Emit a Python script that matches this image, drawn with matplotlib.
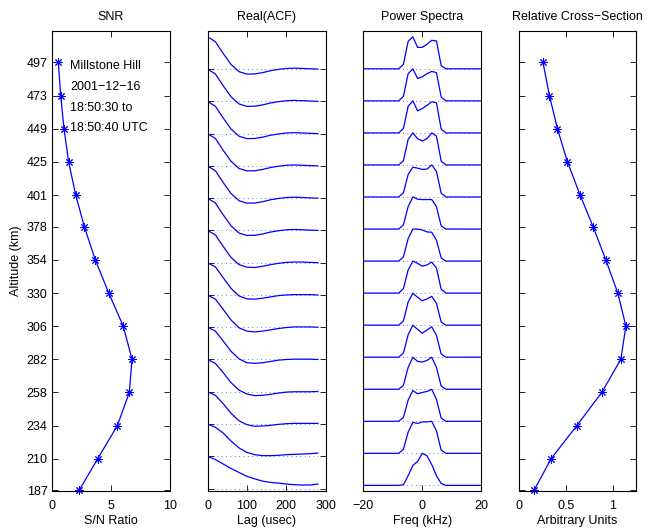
import matplotlib
matplotlib.use("Agg")
import matplotlib.pyplot as plt

plt.rcParams['font.family'] = ['Liberation Sans', 'DejaVu Sans']
FS = 9
plt.rcParams['font.size'] = FS

# ---------------- data ----------------
altitudes = [187, 210, 234, 258, 282, 306, 330, 354, 378, 401, 425, 449, 473, 497]
alt_labels = ['187', '210', '234', '258', '282', '306', '330', '354', '378', '401',
              '425', '449', '473', '497']
snr = [2.31, 3.89, 5.55, 6.56, 6.79, 6.05, 4.82, 3.69, 2.76, 2.03, 1.43, 1.04, 0.76, 0.56]
rcs = [0.16, 0.342, 0.616, 0.882, 1.085, 1.139, 1.053, 0.925, 0.79, 0.651, 0.516, 0.41,
       0.324, 0.256]

lags = [0, 20, 40, 60, 80, 100, 120, 140, 160, 180, 200, 220, 240, 260, 280]
acf_187 = [1.0, 0.90, 0.76, 0.62, 0.50, 0.38, 0.30, 0.23, 0.19, 0.17, 0.14, 0.12, 0.11, 0.11, 0.14]
acf_210 = [1.0, 0.90, 0.72, 0.47, 0.26, 0.12, 0.05, 0.02, 0.02, 0.03, 0.05, 0.06, 0.07, 0.08, 0.10]
acf_234 = [1.0, 0.89, 0.63, 0.33, 0.10, -0.02, -0.07, -0.06, -0.04, -0.01, 0.01, 0.02, 0.02, 0.02, 0.02]
acf_258 = [1.0, 0.88, 0.59, 0.28, 0.05, -0.07, -0.12, -0.11, -0.08, -0.04, -0.01, 0.0, 0.0, 0.0, 0.01]
acf_282 = [1.0, 0.88, 0.57, 0.25, 0.02, -0.10, -0.12, -0.10, -0.06, -0.02, 0.0, 0.01, 0.01, 0.01, 0.0]
acf_306 = [1.0, 0.87, 0.55, 0.22, -0.02, -0.12, -0.145, -0.12, -0.08, -0.04, -0.01, 0.01, 0.01, 0.01, 0.0]
acf_330 = [1.0, 0.87, 0.53, 0.20, -0.03, -0.12, -0.13, -0.10, -0.06, -0.02, 0.0, 0.01, 0.01, 0.01, 0.0]
acf_354 = [1.0, 0.86, 0.50, 0.16, -0.06, -0.14, -0.15, -0.11, -0.06, -0.02, 0.01, 0.02, 0.02, 0.01, 0.0]
acf_378 = [1.0, 0.85, 0.48, 0.14, -0.08, -0.155, -0.15, -0.11, -0.05, -0.01, 0.02, 0.03, 0.02, 0.01, 0.0]
acf_401 = [1.0, 0.85, 0.48, 0.14, -0.08, -0.155, -0.15, -0.11, -0.05, -0.01, 0.02, 0.03, 0.02, 0.01, 0.0]
acf_425 = [1.0, 0.85, 0.48, 0.14, -0.08, -0.155, -0.15, -0.11, -0.05, -0.01, 0.02, 0.03, 0.02, 0.01, 0.0]
acf_449 = [1.0, 0.85, 0.48, 0.14, -0.08, -0.155, -0.15, -0.11, -0.05, -0.01, 0.02, 0.03, 0.02, 0.01, 0.0]
acf_473 = [1.0, 0.85, 0.48, 0.14, -0.08, -0.155, -0.15, -0.11, -0.05, -0.01, 0.02, 0.03, 0.02, 0.01, 0.0]
acf_497 = [1.0, 0.85, 0.48, 0.14, -0.08, -0.155, -0.15, -0.11, -0.05, -0.01, 0.02, 0.03, 0.02, 0.01, 0.0]
acfs = [acf_187, acf_210, acf_234, acf_258, acf_282, acf_306, acf_330, acf_354,
        acf_378, acf_401, acf_425, acf_449, acf_473, acf_497]

freqs = [-20, -8, -6.4, -4.8, -3.2, -1.6, 0, 1.6, 3.2, 4.8, 6.4, 8, 20]
spec_187 = [0, 0, 0.02, 0.30, 0.62, 0.75, 1.00, 0.92, 0.65, 0.30, 0.06, 0, 0]
spec_210 = [0, 0, 0.13, 0.66, 0.97, 0.93, 0.98, 0.98, 1.00, 0.70, 0.10, 0, 0]
spec_234 = [0, 0, 0.12, 0.66, 0.96, 0.86, 0.90, 0.93, 1.00, 0.68, 0.10, 0, 0]
spec_258 = [0, 0, 0.12, 0.68, 1.00, 0.87, 0.85, 0.90, 1.00, 0.68, 0.10, 0, 0]
spec_282 = [0, 0, 0.13, 0.70, 1.00, 0.87, 0.75, 0.85, 0.95, 0.68, 0.10, 0, 0]
spec_306 = [0, 0, 0.13, 0.72, 1.00, 0.87, 0.76, 0.82, 0.90, 0.68, 0.10, 0, 0]
spec_330 = [0, 0, 0.14, 0.72, 1.00, 0.93, 0.84, 0.88, 0.97, 0.78, 0.12, 0, 0]
spec_354 = [0, 0, 0.13, 0.70, 1.00, 1.00, 0.97, 0.91, 0.90, 0.65, 0.10, 0, 0]
spec_378 = [0, 0, 0.13, 0.70, 1.00, 0.93, 0.92, 0.92, 0.92, 0.70, 0.10, 0, 0]
spec_401 = [0, 0, 0.13, 0.70, 0.93, 0.90, 0.86, 0.87, 1.00, 0.80, 0.12, 0, 0]
spec_425 = [0, 0, 0.13, 0.80, 1.00, 0.82, 0.75, 0.82, 1.00, 0.90, 0.12, 0, 0]
spec_449 = [0, 0, 0.14, 0.83, 1.00, 0.69, 0.76, 0.86, 0.97, 0.94, 0.12, 0, 0]
spec_473 = [0, 0, 0.14, 0.85, 1.00, 0.70, 0.75, 0.85, 0.92, 0.88, 0.12, 0, 0]
spec_497 = [0, 0, 0.14, 0.86, 1.00, 0.67, 0.67, 0.77, 0.89, 0.87, 0.10, 0, 0]
specs = [spec_187, spec_210, spec_234, spec_258, spec_282, spec_306, spec_330, spec_354,
         spec_378, spec_401, spec_425, spec_449, spec_473, spec_497]

info_lines = ['Millstone Hill', '2001\u221212\u221216', '18:50:30 to', '18:50:40 UTC']

# ---------------- figure ----------------
W, H = 647, 528
fig = plt.figure(figsize=(W / 100, H / 100), dpi=100)

def ax_at(left, right, top=30.7, bottom=490.5):
    return fig.add_axes([left / W, (H - bottom) / H, (right - left) / W, (bottom - top) / H])

BLUE = (0, 0, 1)
star = (8, 2, 0)
DOT = dict(color=BLUE, lw=0.7, ls=(0, (1, 3.5)), alpha=0.55)

def style(ax):
    ax.tick_params(direction='in', top=True, right=True, length=4, width=0.6,
                   labelsize=FS, pad=6.5)
    for s in ax.spines.values():
        s.set_linewidth(0.8)

# SNR
ax1 = ax_at(51.7, 170)
ax1.plot(snr, altitudes, '-', color=BLUE, lw=0.9, marker=star, ms=6, mew=0.7, clip_on=False)
ax1.set_xlim(0, 10)
ax1.set_ylim(187, 520)
ax1.set_xticks([0, 5, 10])
ax1.set_xticklabels(['0', '5', '10'])
ax1.set_yticks(altitudes)
ax1.set_yticklabels(alt_labels)
style(ax1)
ax1.tick_params(axis='y', pad=3)
ax1.set_title('SNR', fontsize=FS, pad=8)
ax1.set_xlabel('S/N Ratio', labelpad=2.5)
ax1.set_ylabel('Altitude (km)', labelpad=3)
info_y = [0.923, 0.8776, 0.8319, 0.788]
for txt, yy in zip(info_lines, info_y):
    ax1.text(0.155, yy, txt, transform=ax1.transAxes, va='center', ha='left', fontsize=FS)

# ACF
ax2 = ax_at(207.5, 325.7)
for k, a in enumerate(acfs):
    ax2.plot([lags[0], lags[-1]], [k, k], **DOT)
    ax2.plot(lags, [k + v for v in a], '-', color=BLUE, lw=0.9)
ax2.set_xlim(0, 300)
ax2.set_ylim(-0.06, 14.19)
ax2.set_xticks([0, 100, 200, 300])
ax2.set_yticks(range(len(acfs)))
ax2.set_yticklabels([])
style(ax2)
ax2.set_title('Real(ACF)', fontsize=FS, pad=8)
ax2.set_xlabel('Lag (usec)', labelpad=2.5)

# Spectra
ax3 = ax_at(363.3, 481.3)
for k, s in enumerate(specs):
    ax3.plot([freqs[0], freqs[-1]], [k, k], **DOT)
    ax3.plot(freqs, [k + v for v in s], '-', color=BLUE, lw=0.9)
ax3.set_xlim(-20, 20)
ax3.set_ylim(-0.16, 14.19)
ax3.set_xticks([-20, 0, 20])
ax3.set_xticklabels(['\u221220', '0', '20'])
ax3.set_yticks([])
style(ax3)
ax3.set_title('Power Spectra', fontsize=FS, pad=8)
ax3.set_xlabel('Freq (kHz)', labelpad=2.5)

# Relative cross-section
ax4 = ax_at(519, 636.3)
ax4.plot(rcs, altitudes, '-', color=BLUE, lw=0.9, marker=star, ms=6, mew=0.7, clip_on=False)
ax4.set_xlim(0, 1.25)
ax4.set_ylim(187, 520)
ax4.set_xticks([0, 0.5, 1])
ax4.set_xticklabels(['0', '0.5', '1'])
ax4.set_yticks(altitudes)
ax4.set_yticklabels([])
style(ax4)
ax4.set_title('Relative Cross\u2212Section', fontsize=FS, pad=8)
ax4.set_xlabel('Arbitrary Units', labelpad=2.5)

fig.savefig('out.png', dpi=100)
